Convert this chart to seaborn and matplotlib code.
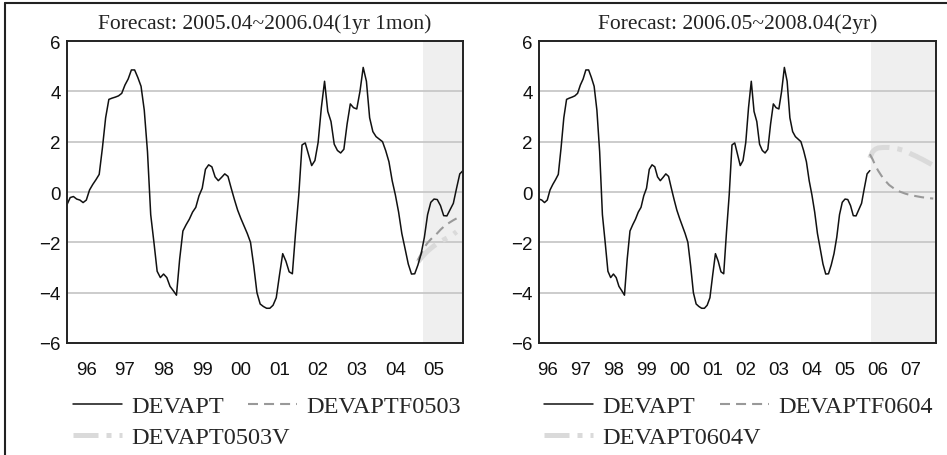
import numpy as np
import pandas as pd
import matplotlib
matplotlib.use("Agg")
import matplotlib.pyplot as plt
import seaborn as sns
from matplotlib.lines import Line2D

# ---------------- data ----------------
start_year = 1996  # first month: 1996.01
# DEVAPT monthly values, 1996.01 .. 2006.04
devapt = [
    -0.50, -0.22, -0.18, -0.28, -0.32, -0.42, -0.32, 0.08, 0.30, 0.49, 0.70, 1.75,   # 1996
    2.95, 3.68, 3.73, 3.77, 3.82, 3.92, 4.25, 4.49, 4.85, 4.85, 4.55, 4.20,          # 1997
    3.25, 1.60, -0.90, -2.00, -3.15, -3.40, -3.26, -3.40, -3.75, -3.92, -4.10, -2.66, # 1998
    -1.55, -1.30, -1.08, -0.80, -0.61, -0.15, 0.15, 0.90, 1.08, 1.00, 0.60, 0.45,    # 1999
    0.58, 0.72, 0.62, 0.15, -0.30, -0.72, -1.05, -1.35, -1.65, -2.00, -2.93, -4.00,  # 2000
    -4.45, -4.55, -4.62, -4.62, -4.50, -4.20, -3.30, -2.45, -2.75, -3.17, -3.25, -1.60, # 2001
    -0.10, 1.87, 1.95, 1.50, 1.05, 1.25, 1.97, 3.35, 4.40, 3.20, 2.80, 1.90,         # 2002
    1.65, 1.55, 1.70, 2.70, 3.50, 3.35, 3.30, 4.00, 4.95, 4.40, 2.95, 2.40,          # 2003
    2.20, 2.10, 2.00, 1.64, 1.20, 0.45, -0.12, -0.80, -1.65, -2.25, -2.86, -3.26,    # 2004
    -3.25, -2.90, -2.45, -1.80, -0.90, -0.41, -0.28, -0.30, -0.54, -0.94, -0.95, -0.70, # 2005
    -0.45, 0.15, 0.72, 0.85,                                                          # 2006
]

# forecasts (month index counted from 1996.01)
f0503_start = 109
devaptf0503 = [-2.70, -2.45, -2.20, -2.02, -1.88, -1.76, -1.64, -1.50, -1.38, -1.28, -1.20, -1.12, -1.05]
devapt0503v = [-2.78, -2.62, -2.48, -2.35, -2.24, -2.14, -2.05, -1.97, -1.90, -1.83, -1.76, -1.68, -1.58]

f0604_start = 123
devaptf0604 = [1.50, 1.30, 1.05, 0.85, 0.68, 0.52, 0.40, 0.28, 0.20, 0.12, 0.06, 0.01,
               -0.03, -0.07, -0.10, -0.13, -0.15, -0.17, -0.19, -0.21, -0.22, -0.24, -0.25, -0.26]
devapt0604v = [1.35, 1.60, 1.70, 1.75, 1.76, 1.77, 1.77, 1.77, 1.76, 1.74, 1.72, 1.69,
               1.66, 1.62, 1.57, 1.51, 1.46, 1.41, 1.35, 1.30, 1.24, 1.18, 1.12, 1.06]

titles = ["Forecast: 2005.04~2006.04(1yr 1mon)", "Forecast: 2006.05~2008.04(2yr)"]
left_years = list(range(1996, 2006))
right_years = list(range(1996, 2008))
left_labels = ["96", "97", "98", "99", "00", "01", "02", "03", "04", "05"]
right_labels = ["96", "97", "98", "99", "00", "01", "02", "03", "04", "05", "06", "07"]
legend_left = ["DEVAPT", "DEVAPTF0503", "DEVAPT0503V"]
legend_right = ["DEVAPT", "DEVAPTF0604", "DEVAPT0604V"]
y_ticks = [-6, -4, -2, 0, 2, 4, 6]

# ---------------- helpers ----------------
def to_frame(values, first_month):
    m = np.arange(first_month, first_month + len(values))
    return pd.DataFrame({"t": start_year + m / 12.0, "v": values})

sns.set_theme(style="white")
plt.rcParams["font.family"] = ["Liberation Sans", "DejaVu Sans"]

W, H = 947, 456
fig = plt.figure(figsize=(W / 100, H / 100), dpi=100)
fig.patch.set_facecolor("white")

ax1 = fig.add_axes([67 / W, 112 / H, 396 / W, 302 / H])
ax2 = fig.add_axes([539 / W, 112 / H, 397 / W, 302 / H])

SERIF = ["Liberation Serif", "DejaVu Serif"]

panels = [
    (ax1, titles[0], (start_year, start_year + 123 / 12), start_year + 110.5 / 12,
     devaptf0503, devapt0503v, f0503_start, left_years, left_labels, legend_left),
    (ax2, titles[1], (start_year + 3 / 12, start_year + 147 / 12), start_year + 123.5 / 12,
     devaptf0604, devapt0604v, f0604_start, right_years, right_labels, legend_right),
]

legend_pos = {0: [(73, 407), (248, 407), (73, 438)],
              1: [(544, 407), (720, 407), (544, 438)]}

for i, (ax, title, xlim, shade0, fc, fv, fstart, years, labels, names) in enumerate(panels):
    ax.set_facecolor("white")
    ax.axvspan(shade0, xlim[1], color="#efefef", zorder=0, lw=0)
    for yv in [-4, -2, 0, 2, 4]:
        ax.axhline(yv, color="#c4c4c4", lw=1.2, zorder=1)

    sns.lineplot(data=to_frame(fv, fstart), x="t", y="v", ax=ax, color="#dadada",
                 lw=3.6, linestyle=(0, (5, 1.6, 1, 1.6)), zorder=3, label=names[2])
    sns.lineplot(data=to_frame(fc, fstart), x="t", y="v", ax=ax, color="#999999",
                 lw=1.5, linestyle=(0, (4.8, 2.9)), zorder=4, label=names[1])
    sns.lineplot(data=to_frame(devapt, 0), x="t", y="v", ax=ax, color="#111111",
                 lw=1.1, zorder=5, label=names[0])

    ax.set_xlim(*xlim)
    ax.set_ylim(-6, 6)
    ax.set_xlabel("")
    ax.set_ylabel("")
    ax.get_legend().remove()

    ax.set_yticks(y_ticks)
    ax.set_yticklabels([f"{v}".replace("-", "\u2212") for v in y_ticks])
    ax.tick_params(axis="y", length=0, pad=4.5, labelsize=13.5, colors="#111111")

    ax.set_xticks([y + 1 for y in years])
    ax.set_xticks([y + 0.5 for y in years], minor=True)
    ax.set_xticklabels([], minor=False)
    ax.set_xticklabels(labels, minor=True)
    ax.tick_params(axis="x", which="major", direction="in", length=6, width=1,
                   color="#a0a0a0", labelbottom=False)
    ax.tick_params(axis="x", which="minor", length=0, pad=13, labelsize=13.5,
                   colors="#111111")

    for sp in ax.spines.values():
        sp.set_visible(True)
        sp.set_color("#222222")
        sp.set_linewidth(1.4)
        sp.set_zorder(6)

    ax.set_title(title, fontsize=15.5, family=SERIF, color="#222222", pad=9)

    # legend entries
    handles = {l.get_label(): l for l in ax.get_lines() if l.get_label() in names}
    for name, (px, py) in zip(names, legend_pos[i]):
        h = handles[name]
        fig.legend(handles=[h], labels=[name], loc="center left",
                   bbox_to_anchor=(px / W, 1 - py / H), bbox_transform=fig.transFigure,
                   frameon=False, borderpad=0, borderaxespad=0, handlelength=2.0,
                   handletextpad=0.4, prop={"family": SERIF, "size": 17.5})

# outer frame (left and top edges)
fig.add_artist(Line2D([4.5 / W, 4.5 / W], [0, 1 - 3.5 / H], transform=fig.transFigure,
                      color="#222222", lw=1.5))
fig.add_artist(Line2D([4.5 / W, 1], [1 - 3.5 / H, 1 - 3.5 / H], transform=fig.transFigure,
                      color="#222222", lw=1.5))

fig.savefig("out.png", dpi=100, facecolor="white")
